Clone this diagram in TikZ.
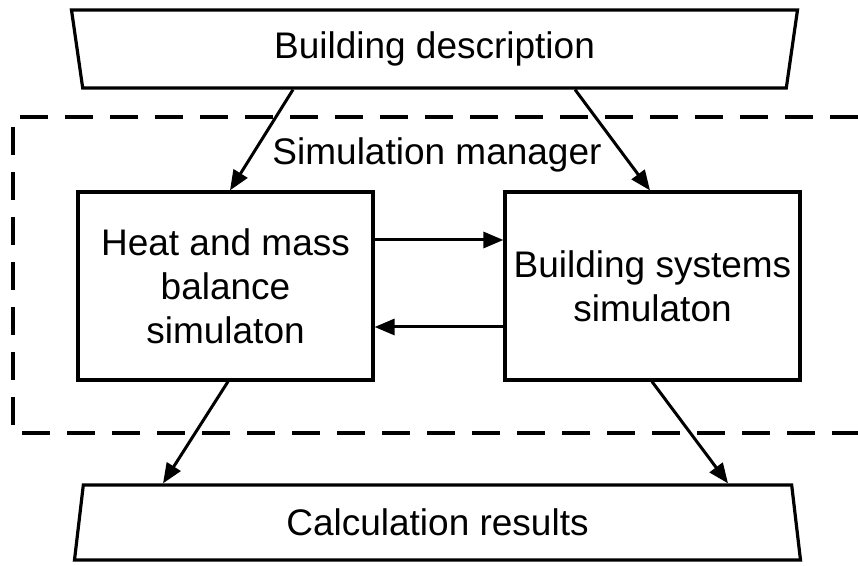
\documentclass[tikz,border=0pt]{standalone}
\usepackage{fontspec}
\setmainfont{Liberation Sans}
\usetikzlibrary{positioning,arrows.meta,calc,shapes.geometric}
\definecolor{cLine}{HTML}{000000}
\tikzset{
  fig/block/.style={draw=cLine, line width=1.6pt,
                    minimum width=147.5pt, minimum height=94pt,
                    inner sep=0pt, align=center,
                    font=\fontsize{18.5}{22}\selectfont},
  fig/io/.style   ={draw=cLine, line width=1.6pt, trapezium,
                    trapezium stretches body, trapezium angle=72,
                    minimum width=363pt, inner sep=0pt,
                    font=\fontsize{18.5}{22}\selectfont},
  fig/arr/.style  ={-{Triangle[length=10pt, width=8pt]}, line width=1.5pt, cLine},
  fig/frame/.style={draw=cLine, line width=1.6pt, dash pattern=on 14pt off 8.5pt},
  fig/title/.style={font=\fontsize{18.5}{22}\selectfont}
}

\begin{document}
\begin{tikzpicture}[x=0.5pt, y=-0.5pt]
    \useasboundingbox (0,0) rectangle (858,566);
    % input and output
    \node[fig/io, shape border rotate=180, minimum height=39pt] (desc) at (434.5, 49) {Building description};
    \node[fig/io, minimum height=37.5pt] (res) at (437.5, 522.5) {Calculation results};
    % the manager frame (open to the right)
    \draw[fig/frame] (858,117) -| (13,433) -- (858,433);
    \node[fig/title] (mgr) at (437, 155) {Simulation manager};
    % the two simulators
    \node[fig/block] (heat) at (225.5, 286) {Heat and mass\\balance\\simulaton};
    \node[fig/block] (sys)  at (652.5, 286) {Building systems\\simulaton};
    % data flow
    \draw[fig/arr] ($(desc.south)+(-141.5,0)$) -- ($(heat.north)+(4.5,0)$);
    \draw[fig/arr] ($(desc.south)+(140.5,0)$)  -- ($(sys.north)+(-2.5,0)$);
    \draw[fig/arr] ($(heat.east)+(0,-46)$) -- ($(sys.west)+(0,-46)$);
    \draw[fig/arr] ($(sys.west)+(0,41)$)   -- ($(heat.east)+(0,41)$);
    \draw[fig/arr] ($(heat.south)+(2.5,0)$) -- ($(res.north)+(-274.5,0)$);
    \draw[fig/arr] ($(sys.south)+(-0.5,0)$) -- ($(res.north)+(290.5,0)$);
  \end{tikzpicture}
\end{document}
